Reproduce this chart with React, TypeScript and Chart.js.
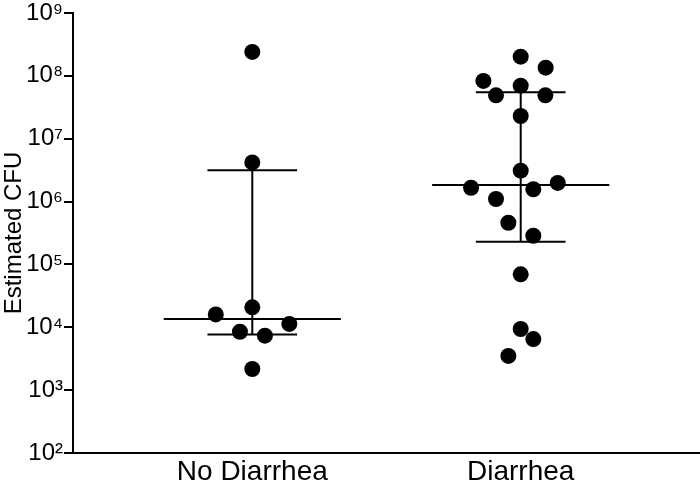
import React, { useEffect, useRef } from 'react';
import { Chart, registerables } from 'chart.js';
Chart.register(...registerables);

const categories = ['No Diarrhea', 'Diarrhea'];
const noDiarrheaValues = [2.4e8, 4.2e6, 2.08e4, 1.6e4, 1.13e4, 8.5e3, 7.35e3, 2.17e3];
const noDiarrheaJitter = [0, 0, 0, -0.136, 0.138, -0.046, 0.047, 0];
const diarrheaValues = [2.02e8, 1.35e8, 8.3e7, 6.98e7, 4.9e7, 4.9e7, 2.3e7, 3.1e6, 1.66e6, 1.98e6, 1.57e6, 1.1e6, 4.6e5, 2.86e5, 6.97e4, 9.4e3, 6.5e3, 3.5e3];
const diarrheaJitter = [0, 0.093, -0.139, 0, -0.092, 0.092, 0, 0, -0.185, 0.138, 0.047, -0.092, -0.046, 0.047, 0, 0, 0.047, -0.046];
const medians = [1.36e4, 1.84e6];
const upperQuartiles = [3.14e6, 5.47e7];
const lowerQuartiles = [7.7e3, 2.3e5];
const yTickExponents = [2, 3, 4, 5, 6, 7, 8, 9];
const yAxisTitle = 'Estimated CFU';

const SUP = ['⁰', '¹', '²', '³', '⁴', '⁵', '⁶', '⁷', '⁸', '⁹'];
const sup = (n: number) => String(n).split('').map((d) => SUP[Number(d)]).join('');

const FONT = '"Liberation Sans", Arial, Helvetica, sans-serif';
const BLACK = '#000000';
const MEDIAN_HALF = 0.33;
const QUART_HALF = 0.167;

export default function App() {
  const ref = useRef<HTMLCanvasElement>(null);
  useEffect(() => {
    document.body.style.margin = '0';
    const canvas = ref.current!;
    const lineDs = (pts: { x: number; y: number }[]) => ({
      type: 'scatter' as const,
      data: pts,
      showLine: true,
      borderColor: BLACK,
      borderWidth: 2,
      pointRadius: 0,
      pointHoverRadius: 0,
    });
    const points = [
      ...noDiarrheaValues.map((v, i) => ({ x: 0 + noDiarrheaJitter[i], y: v })),
      ...diarrheaValues.map((v, i) => ({ x: 1 + diarrheaJitter[i], y: v })),
    ];
    const datasets: any[] = [
      {
        type: 'scatter',
        data: points,
        backgroundColor: BLACK,
        borderColor: BLACK,
        pointRadius: 8,
        pointBorderWidth: 0,
      },
    ];
    categories.forEach((_, ci) => {
      datasets.push(lineDs([{ x: ci - MEDIAN_HALF, y: medians[ci] }, { x: ci + MEDIAN_HALF, y: medians[ci] }]));
      datasets.push(lineDs([{ x: ci - QUART_HALF, y: upperQuartiles[ci] }, { x: ci + QUART_HALF, y: upperQuartiles[ci] }]));
      datasets.push(lineDs([{ x: ci - QUART_HALF, y: lowerQuartiles[ci] }, { x: ci + QUART_HALF, y: lowerQuartiles[ci] }]));
      datasets.push(lineDs([{ x: ci, y: lowerQuartiles[ci] }, { x: ci, y: upperQuartiles[ci] }]));
    });

    const chart = new Chart(canvas, {
      type: 'scatter',
      data: { datasets },
      options: {
        animation: false,
        responsive: false,
        layout: { autoPadding: false, padding: { top: 13, right: 0, bottom: 0, left: 0 } },
        plugins: { legend: { display: false }, tooltip: { enabled: false } },
        scales: {
          x: {
            type: 'linear',
            min: -0.668,
            max: 1.668,
            afterBuildTicks: (s: any) => {
              s.ticks = categories.map((_, i) => ({ value: i }));
            },
            afterFit: (s: any) => {
              s.height = 34;
              s.paddingLeft = 0;
              s.paddingRight = 0;
            },
            ticks: {
              callback: (v: any) => categories[Math.round(Number(v))] ?? '',
              font: { size: 28, family: FONT },
              color: BLACK,
              padding: -6,
              autoSkip: false,
              maxRotation: 0,
            },
            grid: { display: false },
            border: { display: true, color: BLACK, width: 2 },
          },
          y: {
            type: 'logarithmic',
            min: 100,
            max: 1e9,
            afterBuildTicks: (s: any) => {
              s.ticks = yTickExponents.map((e) => ({ value: Math.pow(10, e), major: true }));
            },
            afterFit: (s: any) => {
              s.width = 73;
              s.paddingTop = 0;
              s.paddingBottom = 0;
            },
            ticks: {
              callback: (v: any) => '10' + sup(Math.round(Math.log10(Number(v)))),
              font: { size: 24, family: FONT },
              color: BLACK,
              padding: 1,
              autoSkip: false,
            },
            grid: { drawOnChartArea: false, drawTicks: true, tickLength: 9, color: BLACK, lineWidth: 2 },
            border: { display: true, color: BLACK, width: 2 },
            title: { display: true, text: yAxisTitle, font: { size: 24, family: FONT }, color: BLACK, padding: 0 },
          },
        },
      },
    });
    return () => chart.destroy();
  }, []);
  return (
    <div style={{ width: 700, height: 487, background: '#fff' }}>
      <canvas ref={ref} width={700} height={487} />
    </div>
  );
}
